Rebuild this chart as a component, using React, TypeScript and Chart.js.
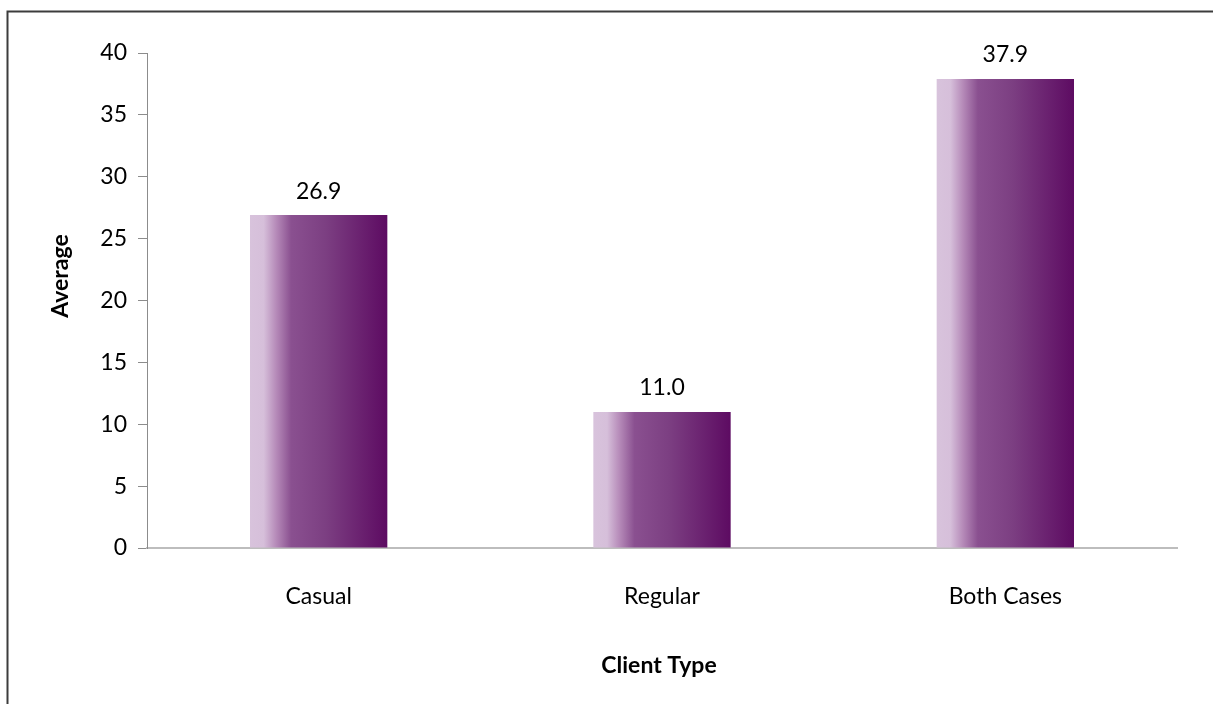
import React, { useEffect, useRef } from "react";
import { Chart, registerables } from "chart.js";

Chart.register(...registerables);

const categories = ["Casual", "Regular", "Both Cases"];
const averages = [26.9, 11.0, 37.9];
const yTicks = [0, 5, 10, 15, 20, 25, 30, 35, 40];
const xTitle = "Client Type";
const yTitle = "Average";

const FONT = "Lato, 'Open Sans', sans-serif";
const FONT_SIZE = 23;
const BAR_PCT = 0.4;

// Horizontal purple shading across each bar, light edge on the left.
function barGradient(ctx: any) {
  const chart = ctx.chart;
  const xs = chart.scales?.x;
  if (!xs || xs.width === undefined) return "#7e3f83";
  const center = xs.getPixelForValue(ctx.dataIndex);
  const half = (xs.width / categories.length) * BAR_PCT / 2;
  const g = chart.ctx.createLinearGradient(center - half, 0, center + half, 0);
  g.addColorStop(0, "#d8c3dc");
  g.addColorStop(0.1, "#d6bfda");
  g.addColorStop(0.19, "#b68bb9");
  g.addColorStop(0.3, "#8a5090");
  g.addColorStop(0.55, "#7c3f82");
  g.addColorStop(1, "#5d0b62");
  return g;
}

const decorations = {
  id: "decorations",
  afterDraw(chart: any) {
    const c = chart.ctx;
    c.save();
    // frame around the figure
    c.strokeStyle = "#3c3c3c";
    c.lineWidth = 2;
    c.beginPath();
    c.moveTo(7.5, chart.height);
    c.lineTo(7.5, 11.5);
    c.lineTo(chart.width, 11.5);
    c.stroke();

    // value labels above bars
    const meta = chart.getDatasetMeta(0);
    c.fillStyle = "#000";
    c.font = `${FONT_SIZE}px ${FONT}`;
    c.textAlign = "center";
    c.textBaseline = "middle";
    meta.data.forEach((bar: any, i: number) => {
      c.fillText(averages[i].toFixed(1), bar.x, bar.y - 24);
    });

    // axis titles
    const area = chart.chartArea;
    c.font = `bold ${FONT_SIZE}px ${FONT}`;
    c.fillText(xTitle, (area.left + area.right) / 2 - 3, 666);
    c.translate(61, 276);
    c.rotate(-Math.PI / 2);
    c.fillText(yTitle, 0, 0);
    c.restore();
  },
};

export default function App() {
  const ref = useRef<HTMLCanvasElement>(null);

  useEffect(() => {
    if (!ref.current) return;
    const chart = new Chart(ref.current, {
      type: "bar",
      data: {
        labels: categories,
        datasets: [
          {
            data: averages,
            backgroundColor: barGradient,
            borderWidth: 0,
            barPercentage: BAR_PCT,
            categoryPercentage: 1,
          },
        ],
      },
      options: {
        animation: false,
        responsive: true,
        maintainAspectRatio: false,
        layout: { padding: { left: 0, top: 53, right: 36, bottom: 0 } },
        plugins: {
          legend: { display: false },
          tooltip: { enabled: false },
          title: { display: false },
        },
        scales: {
          x: {
            afterFit: (s: any) => {
              s.height = 156;
            },
            grid: { display: false },
            border: { display: true, color: "#bdbdbd", width: 2 },
            ticks: {
              color: "#000",
              font: { family: FONT, size: FONT_SIZE },
              padding: 27,
            },
          },
          y: {
            min: 0,
            max: 40,
            afterFit: (s: any) => {
              s.width = 147;
            },
            afterBuildTicks: (s: any) => {
              s.ticks = yTicks.map((v) => ({ value: v }));
            },
            grid: {
              display: true,
              drawOnChartArea: false,
              drawTicks: true,
              tickLength: 9,
              color: "#8c8c8c",
              lineWidth: 1,
            },
            border: { display: true, color: "#8c8c8c", width: 1 },
            ticks: {
              color: "#000",
              font: { family: FONT, size: FONT_SIZE },
              padding: 11,
            },
          },
        },
      },
      plugins: [decorations],
    });
    return () => chart.destroy();
  }, []);

  return (
    <div
      style={{
        position: "absolute",
        left: 0,
        top: 0,
        width: 1213,
        height: 704,
        background: "#fff",
      }}
    >
      <canvas ref={ref} />
    </div>
  );
}
